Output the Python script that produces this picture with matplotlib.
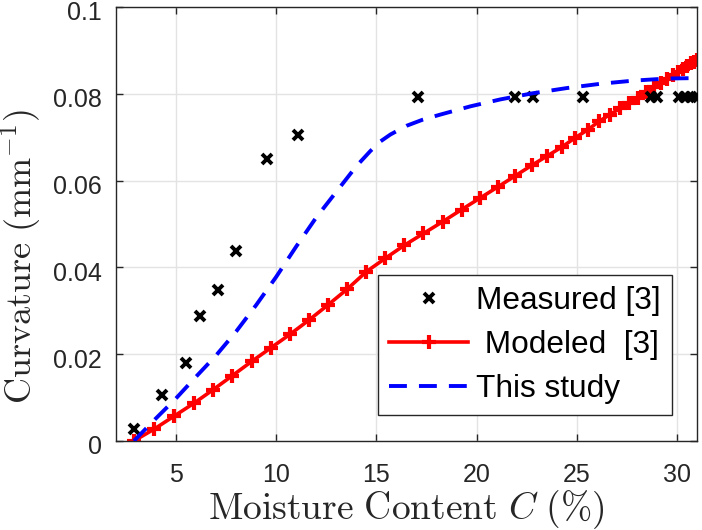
import matplotlib
matplotlib.use("Agg")
import matplotlib.pyplot as plt
import matplotlib.transforms as mtransforms

# Measured [3]
meas_x = [2.9, 4.3, 5.5, 6.2, 7.1, 8.0, 9.55, 11.1, 17.1, 21.9, 22.8, 25.3,
          28.7, 29.0, 30.1, 30.4, 30.7, 30.95]
meas_y = [0.0028, 0.0106, 0.0179, 0.0288, 0.0347, 0.0437, 0.065, 0.0705, 0.0792,
          0.0793, 0.0793, 0.0793, 0.0793, 0.0793, 0.0793, 0.0793, 0.0793, 0.0793]

# Modeled [3]
mod_x = [2.9, 3.9, 4.9, 5.9, 6.85, 7.8, 8.8, 9.75, 10.7, 11.65, 12.6, 13.55, 14.5,
         15.45, 16.4, 17.35, 18.3, 19.25, 20.15, 21.05, 21.9, 22.75, 23.5, 24.25,
         24.9, 25.55, 26.1, 26.65, 27.15, 27.6, 28.05, 28.45, 28.85, 29.2, 29.5,
         29.8, 30.05, 30.3, 30.5, 30.7, 30.85, 31.0]
mod_y = [0.0, 0.0027, 0.0057, 0.0087, 0.0118, 0.0150, 0.0184, 0.0215, 0.0246,
         0.0279, 0.0314, 0.0350, 0.0390, 0.0421, 0.0451, 0.0478, 0.0505, 0.0533,
         0.0559, 0.0585, 0.0610, 0.0635, 0.0656, 0.0677, 0.0698, 0.0717, 0.0736,
         0.0752, 0.0766, 0.0779, 0.0791, 0.0803, 0.0815, 0.0825, 0.0834, 0.0843,
         0.0851, 0.0858, 0.0864, 0.0870, 0.0874, 0.0878]

# This study
study_x = [2.9, 4, 5, 6, 7, 8, 9, 10, 11, 12, 13, 14, 14.7, 15.2, 15.7, 16.5,
           17.3, 18.2, 19.7, 21.2, 22.8, 24.5, 26.2, 27.8, 29.5, 31]
study_y = [0.0, 0.0052, 0.0098, 0.0148, 0.0197, 0.0252, 0.0313, 0.0378, 0.0448,
           0.0515, 0.0574, 0.0633, 0.0668, 0.0690, 0.0706, 0.0726, 0.0740, 0.0752,
           0.0771, 0.0787, 0.0801, 0.0813, 0.0823, 0.0830, 0.0835, 0.0836]

x_ticks = [5, 10, 15, 20, 25, 30]
y_ticks = [0, 0.02, 0.04, 0.06, 0.08, 0.1]
y_tick_labels = ["0", "0.02", "0.04", "0.06", "0.08", "0.1"]

plt.rcParams['mathtext.fontset'] = 'cm'
plt.rcParams['font.family'] = ['Liberation Sans', 'DejaVu Sans']

fig = plt.figure(figsize=(7.02, 5.30), dpi=100)
ax = fig.add_axes([0.165, 0.168, 0.828, 0.819])

ax.plot(meas_x, meas_y, linestyle='none', marker='x', color='black',
        markersize=6.5, markeredgewidth=2.8, label='Measured [3]', zorder=3)
ax.plot(mod_x, mod_y, color='red', linewidth=2.6, marker='+', markersize=10,
        markeredgewidth=3.0, label=' Modeled  [3]', zorder=2)
ax.plot(study_x, study_y, color='blue', linewidth=2.8, linestyle=(0, (4.6, 3.1)),
        label='This study', zorder=4)

ax.set_xlim(2, 31)
ax.set_ylim(0, 0.1)
ax.set_xticks(x_ticks)
ax.set_xticklabels([str(t) for t in x_ticks])
ax.set_yticks(y_ticks)
ax.set_yticklabels(y_tick_labels)

ax.grid(True, color='#e3e3e3', linewidth=1.0)
ax.set_axisbelow(True)
ax.tick_params(direction='in', length=5, width=1.0, top=True, right=True,
               labelsize=18, colors='#262626')
ax.tick_params(axis='x', pad=16)
ax.tick_params(axis='y', pad=10)
offset = mtransforms.ScaledTranslation(0, -4 / 100, fig.dpi_scale_trans)
for lab in ax.get_yticklabels():
    lab.set_transform(lab.get_transform() + offset)
for s in ax.spines.values():
    s.set_color('#262626')
    s.set_linewidth(1.0)

ax.set_xlabel(r'$\mathrm{Moisture\ Content}\ C\ \mathrm{(\%)}$', fontsize=27,
              color='#262626')
ax.xaxis.set_label_coords(0.5, -0.108)
ax.set_ylabel(r'$\mathrm{Curvature\ (mm^{-1})}$', fontsize=26,
              color='#262626')
ax.yaxis.set_label_coords(-0.125, 0.424)

leg = ax.legend(loc='lower right', bbox_to_anchor=(0.957, 0.06), fontsize=22.8,
                frameon=True, fancybox=False, edgecolor='#262626',
                handlelength=2.5, handletextpad=0.25, borderpad=0.35,
                labelspacing=0.44, borderaxespad=0.0)
leg.get_frame().set_linewidth(1.0)
leg.get_frame().set_alpha(1.0)
for t in leg.get_texts():
    t.set_color('black')

fig.savefig('out.png', dpi=100)
